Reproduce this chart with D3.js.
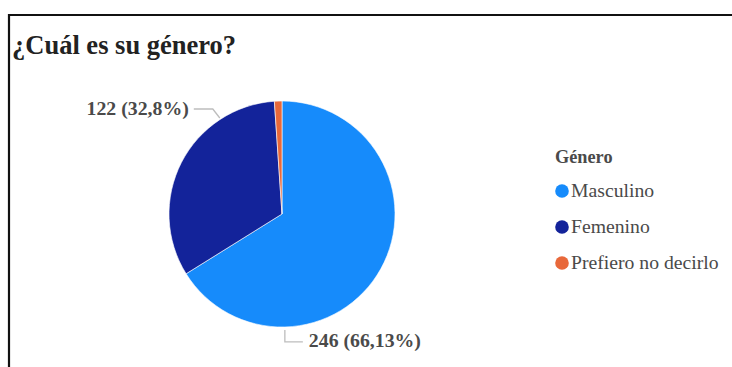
<!DOCTYPE html>
<html>
<head>
<meta charset="utf-8">
<script src="https://cdn.jsdelivr.net/npm/d3@7"></script>
<style>
  html, body { margin: 0; padding: 0; background: #fff; }
  svg { display: block; }
</style>
</head>
<body>
<svg id="chart" width="732" height="367"></svg>
<script>
// Survey answers: gender
const categories = ["Masculino", "Femenino", "Prefiero no decirlo"];
const counts = [246, 122, 4];
const pctLabels = ["66,13%", "32,8%", "1,08%"];
const colors = ["#168bfb", "#13239a", "#e8683a"];
const title = "¿Cuál es su género?";
const legendTitle = "Género";

const svg = d3.select("#chart");
const serif = "'Liberation Serif', 'Times New Roman', serif";

// Frame lines (top and left)
svg.append("line").attr("x1", 8).attr("x2", 732).attr("y1", 15).attr("y2", 15)
  .attr("stroke", "#111").attr("stroke-width", 2.2);
svg.append("line").attr("x1", 9).attr("x2", 9).attr("y1", 14).attr("y2", 367)
  .attr("stroke", "#111").attr("stroke-width", 2.2);

svg.append("text")
  .attr("x", 12).attr("y", 54)
  .attr("font-family", serif).attr("font-weight", "bold").attr("font-size", 26.5)
  .attr("fill", "#222")
  .text(title);

// Pie
const cx = 282, cy = 214, r = 113;
const pie = d3.pie().sort(null).value(d => d)(counts);
const arc = d3.arc().innerRadius(0).outerRadius(r);
const g = svg.append("g").attr("transform", `translate(${cx},${cy})`);
g.selectAll("path").data(pie).enter().append("path")
  .attr("d", arc)
  .attr("fill", (d, i) => colors[i])
  .attr("stroke", "#fff").attr("stroke-width", 0.6);

// Value labels with leader lines (for the two main slices)
const labelStyle = sel => sel
  .attr("font-family", serif).attr("font-weight", "bold").attr("font-size", 19.8)
  .attr("fill", "#4a4a4a");

function edgeAt(d, frac) {
  const a = d.startAngle + (d.endAngle - d.startAngle) * frac;
  return [cx + Math.sin(a) * r, cy - Math.cos(a) * r];
}

// Masculino label below the pie
{
  const [x0, y0] = edgeAt(pie[0], 0.75);
  svg.append("path")
    .attr("d", `M${x0},${y0 + 3} L${x0},${y0 + 15} L${x0 + 18},${y0 + 15}`)
    .attr("fill", "none").attr("stroke", "#bdbdbd").attr("stroke-width", 1.3);
  svg.append("text").attr("x", x0 + 24).attr("y", y0 + 20)
    .call(labelStyle)
    .text(`${counts[0]} (${pctLabels[0]})`);
}

// Femenino label top-left
{
  const [x0, y0] = edgeAt(pie[1], 0.755);
  svg.append("path")
    .attr("d", `M${x0 - 1},${y0 - 1} L${x0 - 8},${y0 - 10} L${x0 - 27},${y0 - 10}`)
    .attr("fill", "none").attr("stroke", "#bdbdbd").attr("stroke-width", 1.3);
  svg.append("text").attr("x", x0 - 32).attr("y", y0 - 4)
    .attr("text-anchor", "end")
    .call(labelStyle)
    .text(`${counts[1]} (${pctLabels[1]})`);
}

// Legend
const lg = svg.append("g").attr("transform", "translate(555,0)");
lg.append("text").attr("x", 0).attr("y", 163)
  .attr("font-family", serif).attr("font-weight", "bold").attr("font-size", 18.3)
  .attr("fill", "#4a4a4a").text(legendTitle);
const items = lg.selectAll("g.item").data(categories).enter().append("g")
  .attr("class", "item")
  .attr("transform", (d, i) => `translate(0,${191 + i * 36})`);
items.append("circle").attr("cx", 7).attr("cy", 0).attr("r", 6.8)
  .attr("fill", (d, i) => colors[i]);
items.append("text").attr("x", 16).attr("y", 6)
  .attr("font-family", serif).attr("font-size", 19.7)
  .attr("fill", "#4a4a4a").text(d => d);
</script>
</body>
</html>
